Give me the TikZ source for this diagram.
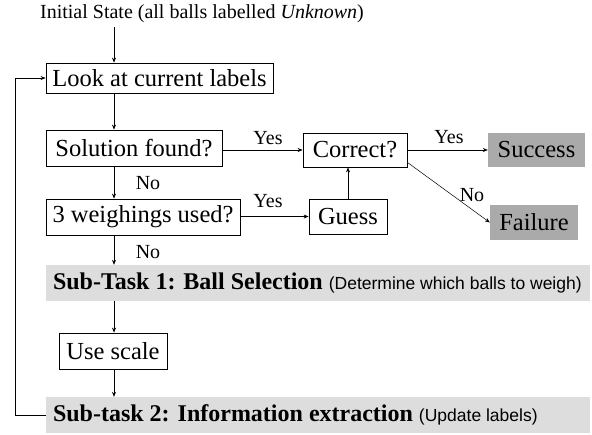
\documentclass[tikz,border=0pt]{standalone}
\usepackage{fontspec}
\setmainfont{Liberation Serif}
\newfontfamily\notefont{Liberation Sans}
\newcommand\bandnote[1]{{\notefont\fontsize{17.5}{20}\selectfont\mdseries #1}}
\usetikzlibrary{arrows.meta,calc}
\definecolor{bandgray}{RGB}{221,221,221}
\definecolor{endgray}{RGB}{170,170,170}
\tikzset{
  boxtext/.style={font=\fontsize{24.5}{28}\selectfont},
  stepbox/.style={boxtext,draw=black,line width=0.8pt,inner sep=0pt,fill=white},
  endbox/.style={boxtext,fill=endgray,inner sep=0pt},
  band/.style={fill=bandgray,inner xsep=7pt,inner ysep=0pt,minimum width=544pt,
    minimum height=36pt},
  bandtext/.style={anchor=west,inner sep=0pt,font=\fontsize{24}{28}\selectfont\bfseries},
  lbl/.style={font=\fontsize{20}{24}\selectfont,inner sep=0pt},
  flow/.style={line width=0.6pt,-{Stealth[length=5pt,width=4pt]}}
}
\begin{document}
\begin{tikzpicture}[x=1pt,y=-1pt]
\useasboundingbox (0,0) rectangle (592,434);

% start text and the column of process boxes
\node[font=\fontsize{20}{24}\selectfont,inner sep=0pt] (init) at (202,14)
  {Initial State (all balls labelled \textit{Unknown})};
\coordinate (spine) at (114,0);
\coordinate (loopx) at (15,0);

\node[stepbox,minimum width=227pt,minimum height=30pt] (look) at (159.5,78) {Look at current labels};
\node[stepbox,minimum width=176pt,minimum height=36pt] (sol) at (134,148) {Solution found?};
\node[stepbox,minimum width=194pt,minimum height=36pt] (weigh) at (143,217) {3 weighings used?};

% guessing branch
\node[stepbox,minimum width=104pt,minimum height=34pt] (correct) at (355,150) {Correct?};
\node[stepbox,minimum width=78pt,minimum height=35pt] (guess) at (348,216.5) {Guess};
\node[endbox,minimum width=97pt,minimum height=34pt] (success) at (536.5,150) {Success};
\node[endbox,minimum width=88pt,minimum height=35pt] (failure) at (534,222.5) {Failure};

% sub-tasks: grey bands with the text set from the left edge
\node[band] (task1) at (318,283) {};
\node[bandtext] (task1txt) at ($(task1.west)+(7,0)$)
  {Sub-Task 1: Ball Selection \bandnote{(Determine which balls to weigh)}};
\node[stepbox,minimum width=108pt,minimum height=36pt] (scale) at (113,351) {Use scale};
\node[band] (task2) at (318,415) {};
\node[bandtext] (task2txt) at ($(task2.west)+(7,0)$)
  {Sub-task 2: Information extraction \bandnote{(Update labels)}};

% main flow down the spine
\draw[flow] (init.south -| spine) ++(0,4) -- (look.north -| spine);
\draw[flow] (look.south -| spine) -- (sol.north -| spine);
\draw[flow] (sol.south -| spine) -- (weigh.north -| spine);
\draw[flow] (weigh.south -| spine) -- (task1.north -| spine);
\draw[flow] (task1.south -| spine) -- (scale.north -| spine);
\draw[flow] (scale.south -| spine) -- (task2.north -| spine);

% decisions
\draw[flow] (sol.east |- correct.west) -- (correct.west);
\draw[flow] (weigh.east |- guess.west) -- (guess.west);
\draw[flow] (guess.north) -- (guess.north |- correct.south);
\draw[flow] (correct.east) -- (success.west);
\draw[line width=0.5pt,-{Stealth[length=5pt,width=4pt]}]
  ($(correct.south east)+(0,-5)$) -- (failure.west);

% branch labels
\node[lbl] (y1) at (268,138) {Yes};
\node[lbl] (y2) at (268,201) {Yes};
\node[lbl] (y3) at (449,137) {Yes};
\node[lbl] (n1) at (148,183) {No};
\node[lbl] (n2) at (148,252) {No};
\node[lbl] (n3) at (472,195) {No};

% loop back to the labels
\draw[flow] (task2.west) -- (task2.west -| loopx) -- (look.west -| loopx) -- (look.west);
\end{tikzpicture}
\end{document}
